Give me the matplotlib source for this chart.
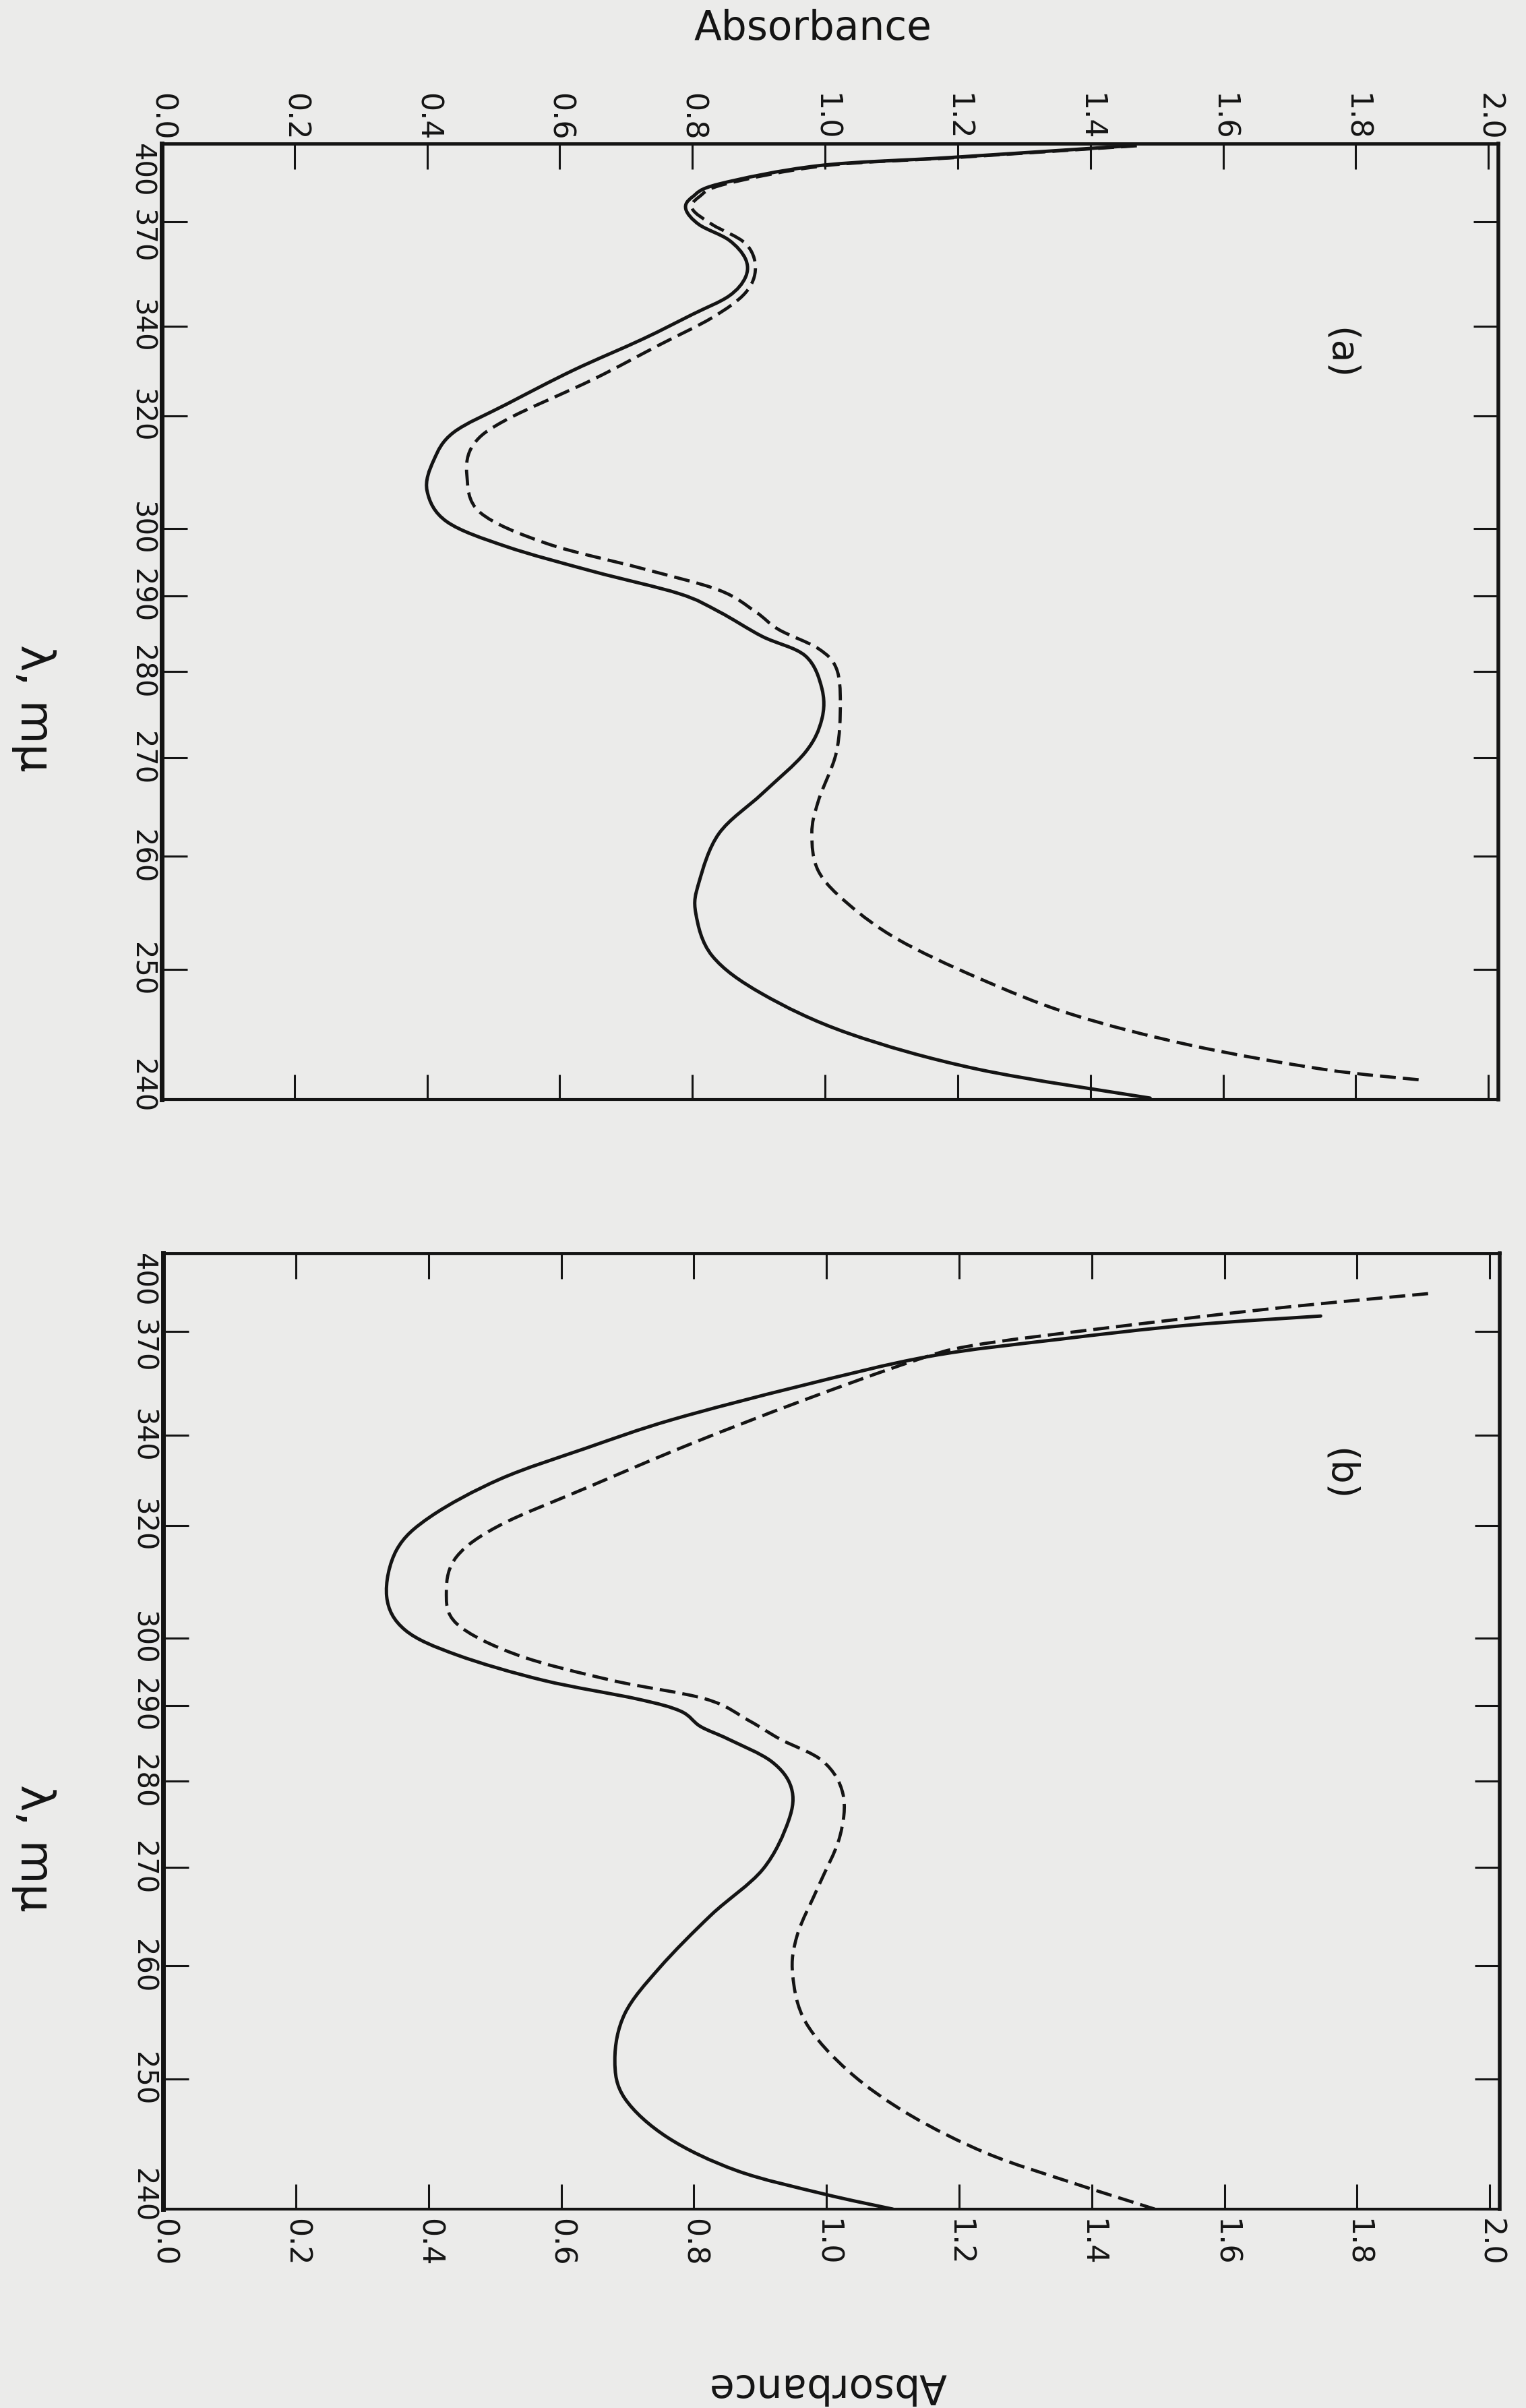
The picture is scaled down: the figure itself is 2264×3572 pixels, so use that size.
import numpy as np
import matplotlib.pyplot as plt
from matplotlib.path import Path
from matplotlib.patches import PathPatch
from matplotlib.transforms import ScaledTranslation


PAPER = '#ebebea'
INK = '#141414'

# wavelength (m\u03bc) / absorbance, panel (a)
A_SOLID_WL = [399.0, 394.0, 390.6, 383.4, 378.6, 374.3, 369.0, 364.0, 358.2, 352.9,
              347.7, 342.9, 336.8, 329.6, 322.4, 316.8, 311.6, 306.2, 301.1, 297.2,
              293.5, 290.3, 287.8, 284.5, 282.0, 278.0, 274.3, 270.6, 266.2, 262.2,
              257.6, 254.8, 251.1, 248.0, 244.9, 242.2, 240.1]
A_SOLID_ABS = [1.46, 1.19, 0.99, 0.84, 0.80, 0.79, 0.81, 0.855, 0.88, 0.88,
               0.855, 0.80, 0.725, 0.62, 0.52, 0.44, 0.41, 0.40, 0.43, 0.52,
               0.65, 0.78, 0.84, 0.905, 0.97, 0.995, 0.995, 0.97, 0.905, 0.84,
               0.81, 0.805, 0.83, 0.905, 1.035, 1.23, 1.49]

A_DASH_WL = [399.0, 394.0, 390.6, 383.4, 378.6, 374.3, 369.0, 362.9, 355.6, 348.6,
             342.1, 335.4, 327.6, 319.3, 314.5, 308.9, 302.6, 297.7, 293.9, 290.8,
             287.8, 285.4, 282.9, 280.4, 276.2, 270.6, 265.5, 262.2, 258.6, 255.6,
             252.5, 249.3, 246.4, 244.0, 242.2, 241.4]
A_DASH_ABS = [1.47, 1.20, 1.00, 0.85, 0.81, 0.80, 0.83, 0.88, 0.895, 0.88,
              0.83, 0.75, 0.65, 0.52, 0.47, 0.46, 0.48, 0.58, 0.725, 0.84,
              0.895, 0.93, 0.99, 1.017, 1.023, 1.017, 0.99, 0.98, 0.99, 1.035,
              1.11, 1.23, 1.37, 1.55, 1.75, 1.90]

# panel (b)
B_SOLID_WL = [375.2, 372.0, 367.3, 361.9, 353.1, 344.0, 336.9, 329.8, 321.9, 315.3,
              306.9, 301.3, 297.4, 293.6, 290.9, 289.2, 287.1, 285.4, 282.5, 279.2,
              275.3, 269.8, 265.0, 259.8, 255.6, 251.6, 248.4, 245.3, 242.8, 241.1,
              240.0]
B_SOLID_ABS = [1.745, 1.544, 1.35, 1.155, 0.96, 0.767, 0.637, 0.508, 0.404, 0.352,
               0.337, 0.365, 0.443, 0.573, 0.715, 0.78, 0.81, 0.852, 0.917, 0.947,
               0.943, 0.904, 0.826, 0.748, 0.696, 0.681, 0.696, 0.761, 0.865, 0.995,
               1.10]

B_DASH_WL = [383.4, 377.9, 370.9, 365.3, 360.4, 348.8, 337.8, 327.8, 320.1, 314.1,
             307.9, 302.3, 297.4, 293.6, 290.9, 287.9, 285.4, 282.5, 278.4, 273.4,
             268.0, 263.0, 259.2, 254.8, 250.6, 247.1, 244.1, 241.9, 240.0]
B_DASH_ABS = [1.907, 1.674, 1.415, 1.22, 1.13, 0.96, 0.793, 0.637, 0.508, 0.443,
              0.427, 0.443, 0.534, 0.676, 0.818, 0.883, 0.93, 0.995, 1.025, 1.02,
              0.988, 0.956, 0.949, 0.969, 1.034, 1.125, 1.242, 1.371, 1.495]

WL_TICKS = [400, 370, 340, 320, 300, 290, 280, 270, 260, 250, 240]
ABS_TICKS = [0.0, 0.2, 0.4, 0.6, 0.8, 1.0, 1.2, 1.4, 1.6, 1.8, 2.0]

# the chart paper's wavelength axis is close to a power of 1/lambda
SCALE_POWER = 2.57


def wl_forward(wl):
    wl = np.clip(np.asarray(wl, dtype=float), 1.0, None)
    return -(wl / 240.0) ** (-SCALE_POWER)


def wl_inverse(u):
    u = np.clip(-np.asarray(u, dtype=float), 1e-6, None)
    return 240.0 * u ** (-1.0 / SCALE_POWER)


def curve_path(abs_vals, wl_vals):
    # smooth pen curve through the read points (Catmull-Rom in scale space)
    p = np.column_stack([np.asarray(abs_vals, float), wl_forward(wl_vals)])
    q = np.vstack([p[0], p, p[-1]])
    verts = [p[0]]
    codes = [Path.MOVETO]
    for i in range(len(p) - 1):
        p0, p1, p2, p3 = q[i], q[i + 1], q[i + 2], q[i + 3]
        verts += [p1 + (p2 - p0) / 6.0, p2 - (p3 - p1) / 6.0, p2]
        codes += [Path.CURVE4] * 3
    verts = np.array(verts)
    verts[:, 1] = wl_inverse(verts[:, 1])
    return Path(verts, codes)


def shift(fig, label, dy_px):
    label.set_transform(label.get_transform()
                        + ScaledTranslation(0, dy_px / fig.dpi, fig.dpi_scale_trans))


def setup_axes(fig, ax, labels_on_top):
    ax.set_facecolor(PAPER)
    ax.set_yscale('function', functions=(wl_forward, wl_inverse))
    ax.set_ylim(240, 400)
    ax.set_xlim(0, 2.015)
    ax.set_yticks(WL_TICKS)
    ax.set_yticklabels([str(w) for w in WL_TICKS])
    ax.set_xticks(ABS_TICKS)
    ax.set_xticklabels(['%.1f' % a for a in ABS_TICKS])

    ax.tick_params(axis='both', direction='in', length=27, width=2.2, color=INK)
    ax.tick_params(axis='y', left=True, right=True, labelleft=True, labelright=False,
                   labelrotation=-90, labelsize=30, pad=6, labelcolor=INK)
    ax.tick_params(axis='x', top=True, bottom=True, labeltop=labels_on_top,
                   labelbottom=not labels_on_top, labelrotation=-90, labelsize=32,
                   pad=3 if labels_on_top else 10, labelcolor=INK)

    labels = ax.get_yticklabels()
    for lab in labels:
        lab.set_va('center')
    labels[0].set_va('top')
    shift(fig, labels[1], -22)
    shift(fig, labels[-1], 20)

    for side, w in [('left', 5.0), ('right', 4.0), ('top', 3.5), ('bottom', 3.0)]:
        ax.spines[side].set_linewidth(w)
        ax.spines[side].set_color(INK)


def draw_pair(ax, solid_abs, solid_wl, dash_abs, dash_wl):
    ax.add_patch(PathPatch(curve_path(solid_abs, solid_wl), fill=False,
                           edgecolor=INK, lw=3.6, capstyle='round',
                           joinstyle='round'))
    ax.add_patch(PathPatch(curve_path(dash_abs, dash_wl), fill=False,
                           edgecolor=INK, lw=3.4, linestyle=(0, (5, 2.2)),
                           capstyle='butt'))


def main():
    fig = plt.figure(figsize=(22.64, 35.72), dpi=100)
    fig.patch.set_facecolor(PAPER)

    ax_a = fig.add_axes([0.1060, 0.5434, 0.8759, 0.3970])
    ax_b = fig.add_axes([0.1069, 0.0826, 0.8759, 0.3970])

    setup_axes(fig, ax_a, labels_on_top=True)
    setup_axes(fig, ax_b, labels_on_top=False)

    draw_pair(ax_a, A_SOLID_ABS, A_SOLID_WL, A_DASH_ABS, A_DASH_WL)
    draw_pair(ax_b, B_SOLID_ABS, B_SOLID_WL, B_DASH_ABS, B_DASH_WL)

    ax_a.text(0.8815, 0.78, '(a)', transform=ax_a.transAxes, rotation=-90,
              ha='center', va='center', fontsize=40, color=INK)
    ax_b.text(0.880, 0.7685, '(b)', transform=ax_b.transAxes, rotation=-90,
              ha='center', va='center', fontsize=40, color=INK)

    fig.text(0.5327, 0.988, 'Absorbance', ha='center', va='center',
             fontsize=43, color=INK)
    fig.text(0.5424, 0.0095, 'Absorbance', ha='center', va='center',
             fontsize=43, color=INK, rotation=180)

    fig.text(0.0221, 0.706, '\u03bb, m\u03bc', ha='center', va='center',
             rotation=-90, fontsize=48, color=INK)
    fig.text(0.0221, 0.2326, '\u03bb, m\u03bc', ha='center', va='center',
             rotation=-90, fontsize=48, color=INK)

    fig.savefig('out.png', dpi=100, facecolor=PAPER)


if __name__ == '__main__':
    main()
